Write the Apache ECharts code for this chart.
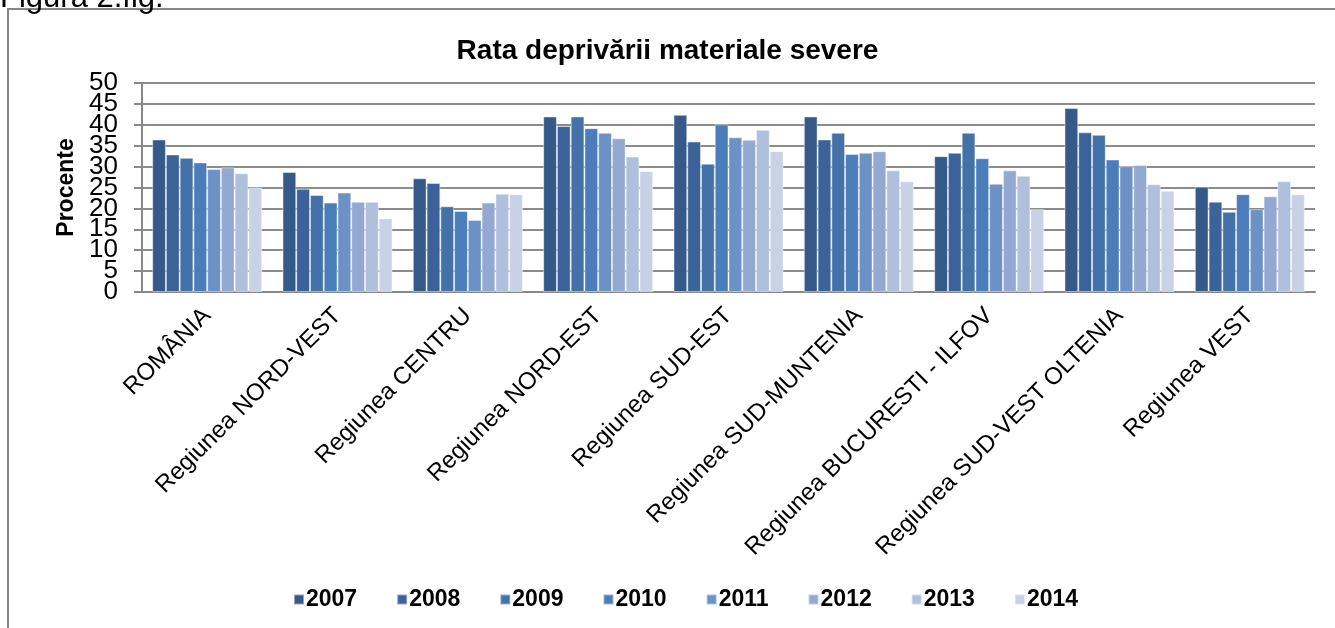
<!DOCTYPE html>
<html>
<head>
<meta charset="utf-8">
<script src="https://cdn.jsdelivr.net/npm/echarts@6/dist/echarts.min.js"></script>
<style>
html,body{margin:0;padding:0;background:#fff;}
#chart{width:1335px;height:628px;}
</style>
</head>
<body>
<div id="chart"></div>
<script>
const categories = ["ROMÂNIA","Regiunea NORD-VEST","Regiunea CENTRU","Regiunea NORD-EST","Regiunea SUD-EST","Regiunea SUD-MUNTENIA","Regiunea BUCURESTI - ILFOV","Regiunea SUD-VEST OLTENIA","Regiunea VEST"];
const years = ["2007","2008","2009","2010","2011","2012","2013","2014"];
const v2007 = [36.5, 28.7, 27.2, 42.0, 42.4, 42.0, 32.5, 44.0, 25.2];
const v2008 = [32.9, 24.7, 26.1, 39.7, 36.0, 36.5, 33.3, 38.2, 21.6];
const v2009 = [32.1, 23.2, 20.5, 42.0, 30.7, 38.1, 38.1, 37.6, 19.2];
const v2010 = [31.0, 21.4, 19.4, 39.2, 40.1, 33.0, 32.0, 31.7, 23.4];
const v2011 = [29.4, 23.8, 17.2, 38.1, 37.0, 33.3, 25.9, 30.1, 19.8];
const v2012 = [29.8, 21.6, 21.4, 36.8, 36.4, 33.7, 29.1, 30.4, 22.9];
const v2013 = [28.4, 21.6, 23.5, 32.4, 38.8, 29.1, 27.8, 25.8, 26.5];
const v2014 = [25.0, 17.6, 23.4, 28.9, 33.7, 26.5, 19.8, 24.2, 23.4];
const yTicks = [0,5,10,15,20,25,30,35,40,45,50];
const colors = ["#355a8a","#3c6399","#4472a8","#4a7db9","#6b91c5","#93a9d1","#afc0dd","#c8d1e5"];

const seriesValues = [v2007,v2008,v2009,v2010,v2011,v2012,v2013,v2014];
const FONT = "Liberation Sans, Arial, sans-serif";
const evenTicks = yTicks.filter((t,i)=>i%2===0);
const oddTicks = yTicks.filter((t,i)=>i%2===1);
const labelStyle = {fontFamily:FONT, fontSize:26, color:'#000', margin:24, showMinLabel:true, showMaxLabel:true};

const chart = echarts.init(document.getElementById('chart'), null, {renderer:'canvas'});
chart.setOption({
  animation:false,
  backgroundColor:'#fff',
  color: colors,
  title:{
    text:'Rata deprivării materiale severe',
    left:'center', top:32,
    textStyle:{fontFamily:FONT, fontWeight:'bold', fontSize:28, color:'#000'}
  },
  graphic:[
    {type:'rect', shape:{x:8, y:9, width:1400, height:700}, style:{fill:'none', stroke:'#888', lineWidth:2}, silent:true},
    {type:'text', left:0, top:-17, style:{text:'Figura 2.fig.', fontFamily:FONT, fontSize:31, fill:'#000'}, silent:true}
  ],
  legend:{
    data: years,
    left:288, top:583,
    itemWidth:10, itemHeight:10, itemGap:39,
    icon:'rect',
    textStyle:{fontFamily:FONT, fontWeight:'bold', fontSize:23, color:'#000', padding:[0,0,0,-3]}
  },
  grid:{left:142, right:20, top:83, bottom:336, containLabel:false},
  xAxis:{
    type:'category',
    data: categories,
    axisLine:{show:true, lineStyle:{color:'#888', width:2}},
    axisTick:{show:false},
    axisLabel:{interval:0, rotate:45, fontFamily:FONT, fontSize:24, color:'#000', margin:20}
  },
  yAxis:[{
    type:'value',
    min:0, max:50, interval:5,
    name:'Procente',
    nameLocation:'middle', nameGap:64, nameRotate:90,
    nameTextStyle:{fontFamily:FONT, fontWeight:'bold', fontSize:23, color:'#000'},
    axisLine:{show:true, lineStyle:{color:'#888', width:2}},
    axisTick:{show:true, length:8, lineStyle:{color:'#888', width:2}},
    axisLabel:Object.assign({}, labelStyle, {
      formatter: function(v){ return evenTicks.indexOf(v) >= 0 ? String(v) : ''; }}),
    splitLine:{show:true, lineStyle:{color:'#8c8c8c', width:2}}
  },{
    type:'value', position:'left', offset:0,
    min:0, max:50, interval:5,
    axisLine:{show:false}, axisTick:{show:false}, splitLine:{show:false},
    axisLabel:Object.assign({}, labelStyle, {
      formatter: function(v){ return oddTicks.indexOf(v) >= 0 ? String(v) : ''; }})
  }],
  series: years.map((y,i)=>({
    name:y, type:'bar', data: seriesValues[i], yAxisIndex:0,
    barGap:'0%', barCategoryGap:'15.6%',
    itemStyle:{color:colors[i], borderColor:'rgba(255,255,255,0.45)', borderWidth:1}
  }))
});
</script>
</body>
</html>
